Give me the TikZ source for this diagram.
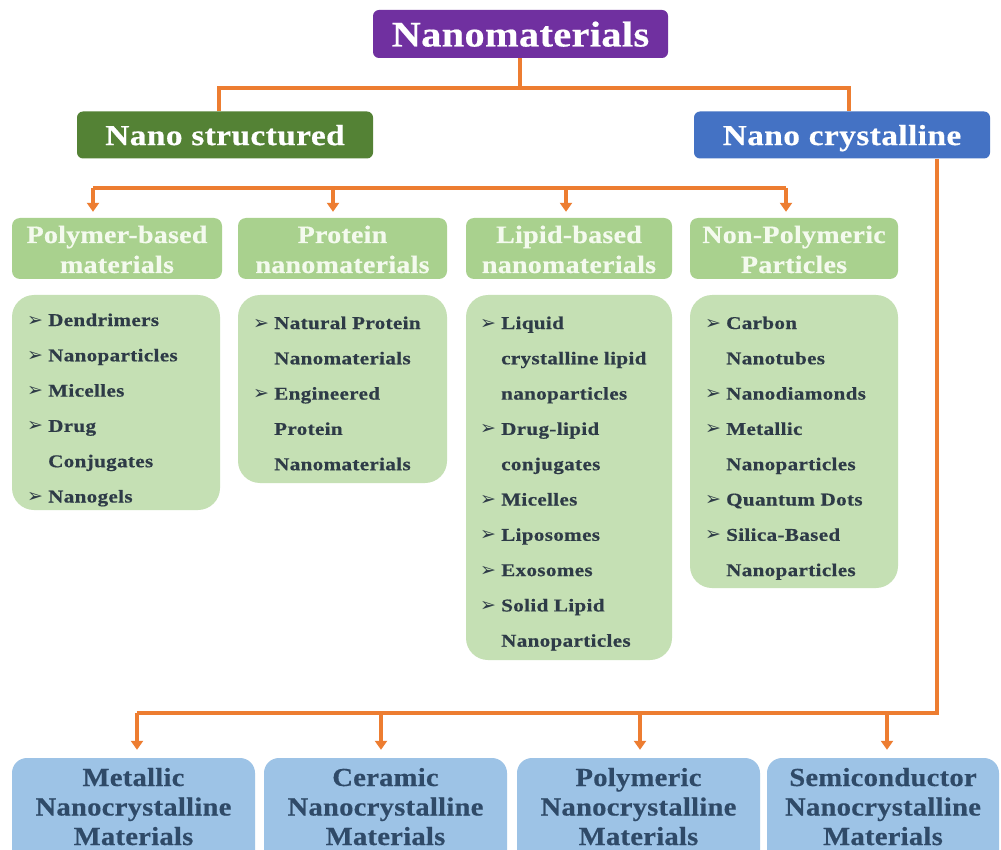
\documentclass[tikz,border=0pt]{standalone}
\usepackage{fontspec}
\setmainfont{Liberation Serif}
\newfontfamily\fTop[FakeStretch=1.12,LetterSpace=1,FakeBold=0.5,UprightFont=* Bold,BoldFont=* Bold]{Liberation Serif}
\newfontfamily\fMid[FakeStretch=1.15,LetterSpace=1.5,FakeBold=0.5,UprightFont=* Bold,BoldFont=* Bold]{Liberation Serif}
\newfontfamily\fHead[FakeStretch=1.12,LetterSpace=1,FakeBold=0.5,UprightFont=* Bold,BoldFont=* Bold]{Liberation Serif}
\newfontfamily\fItem[FakeStretch=1.17,LetterSpace=2,FakeBold=0.6,UprightFont=* Bold,BoldFont=* Bold]{Liberation Serif}
\newfontfamily\fBot[FakeStretch=1.1,LetterSpace=1,FakeBold=0.5,UprightFont=* Bold,BoldFont=* Bold]{Liberation Serif}
\newfontfamily\fSym{DejaVu Sans}
\usetikzlibrary{arrows.meta}
\definecolor{purpleC}{HTML}{7030A0}
\definecolor{dgreenC}{HTML}{548235}
\definecolor{blueC}{HTML}{4472C4}
\definecolor{hgreenC}{HTML}{A9D18E}
\definecolor{lgreenC}{HTML}{C5E0B4}
\definecolor{lblueC}{HTML}{9DC3E6}
\definecolor{orangeC}{HTML}{ED7D31}
\definecolor{itemC}{HTML}{2E3B47}
\definecolor{botC}{HTML}{2F4A68}
\definecolor{hdrC}{HTML}{F4FAEE}
\newcommand\bul{\makebox[21pt][l]{{\fSym\fontsize{19}{19}\selectfont\char"27A2}}}
\newcommand\cnt{\hspace*{21pt}}
\tikzset{
  conn/.style={draw=orangeC, line width=3.2pt},
  arr/.style={-{Triangle[width=12pt,length=9pt]}, shorten >=6pt},
  topbox/.style={fill=#1, rounded corners=6pt, inner sep=0pt, text=white, text depth=0pt},
  hdrbox/.style={fill=hgreenC, rounded corners=8pt, inner sep=0pt, minimum height=61pt},
  listbox/.style={fill=lgreenC, rounded corners=22pt, inner sep=0pt},
  botbox/.style={fill=lblueC, rounded corners=15pt, inner sep=0pt, minimum height=122pt},
  hdrtext/.style={inner sep=0pt, text=hdrC, font=\fHead\fontsize{25}{30}\selectfont},
  listtext/.style={inner sep=0pt, text=itemC, font=\fItem\fontsize{18}{35.3}\selectfont},
  bottext/.style={inner sep=0pt, text=botC, font=\fBot\fontsize{26}{29.5}\selectfont}
}
\begin{document}
\begin{tikzpicture}[x=1pt, y=-1pt]
\useasboundingbox (0,0) rectangle (1001,850);
\fill[white] (0,0) rectangle (1001,850);
\clip (0,0) rectangle (1001,850);

% top level
\node[topbox=purpleC, minimum width=295pt, minimum height=48pt, font=\fTop\fontsize{36}{40}\selectfont] (nano) at (520.5,34) {Nanomaterials};
\node[topbox=dgreenC, minimum width=296pt, minimum height=47pt, font=\fMid\fontsize{29}{32}\selectfont] (ns) at (225,135) {Nano structured};
\node[topbox=blueC, minimum width=296pt, minimum height=47pt, font=\fMid\fontsize{29}{32}\selectfont] (nc) at (842,135) {Nano crystalline};

% header boxes
\node[hdrbox, minimum width=210pt] (h1) at (117,248.5) {};
\node[hdrbox, minimum width=209pt] (h2) at (342.5,248.5) {};
\node[hdrbox, minimum width=206pt] (h3) at (569,248.5) {};
\node[hdrbox, minimum width=208pt] (h4) at (794,248.5) {};
\node[hdrtext, anchor=base] (ht1) at (117,243) {\begin{tabular}[t]{@{}c@{}}Polymer-based\\materials\end{tabular}};
\node[hdrtext, anchor=base] (ht2) at (342.5,243) {\begin{tabular}[t]{@{}c@{}}Protein\\nanomaterials\end{tabular}};
\node[hdrtext, anchor=base] (ht3) at (569,243) {\begin{tabular}[t]{@{}c@{}}Lipid-based\\nanomaterials\end{tabular}};
\node[hdrtext, anchor=base] (ht4) at (794,243) {\begin{tabular}[t]{@{}c@{}}Non-Polymeric\\Particles\end{tabular}};

% list boxes
\node[listbox, minimum width=208pt, minimum height=215pt] (c1) at (116,402.5) {};
\node[listbox, minimum width=209pt, minimum height=188pt] (c2) at (342.5,389) {};
\node[listbox, minimum width=206pt, minimum height=365pt] (c3) at (569,477.5) {};
\node[listbox, minimum width=208pt, minimum height=293pt] (c4) at (794,441.5) {};
\node[listtext, anchor=base west] (l1) at (27,326) {\begin{tabular}[t]{@{}l@{}}
\bul Dendrimers\\ \bul Nanoparticles\\ \bul Micelles\\ \bul Drug\\ \cnt Conjugates\\ \bul Nanogels\end{tabular}};
\node[listtext, anchor=base west] (l2) at (253,329) {\begin{tabular}[t]{@{}l@{}}
\bul Natural Protein\\ \cnt Nanomaterials\\ \bul Engineered\\ \cnt Protein\\ \cnt Nanomaterials\end{tabular}};
\node[listtext, anchor=base west] (l3) at (480,329) {\begin{tabular}[t]{@{}l@{}}
\bul Liquid\\ \cnt crystalline lipid\\ \cnt nanoparticles\\ \bul Drug-lipid\\ \cnt conjugates\\ \bul Micelles\\ \bul Liposomes\\ \bul Exosomes\\ \bul Solid Lipid\\ \cnt Nanoparticles\end{tabular}};
\node[listtext, anchor=base west] (l4) at (705,329) {\begin{tabular}[t]{@{}l@{}}
\bul Carbon\\ \cnt Nanotubes\\ \bul Nanodiamonds\\ \bul Metallic\\ \cnt Nanoparticles\\ \bul Quantum Dots\\ \bul Silica-Based\\ \cnt Nanoparticles\end{tabular}};

% bottom boxes
\node[botbox, minimum width=243pt] (b1) at (133.5,819) {};
\node[botbox, minimum width=243pt] (b2) at (385.5,819) {};
\node[botbox, minimum width=243pt] (b3) at (638.5,819) {};
\node[botbox, minimum width=232pt] (b4) at (883,819) {};
\node[bottext, anchor=base] (bt1) at (133.5,786) {\begin{tabular}[t]{@{}c@{}}Metallic\\Nanocrystalline\\Materials\end{tabular}};
\node[bottext, anchor=base] (bt2) at (385.5,786) {\begin{tabular}[t]{@{}c@{}}Ceramic\\Nanocrystalline\\Materials\end{tabular}};
\node[bottext, anchor=base] (bt3) at (638.5,786) {\begin{tabular}[t]{@{}c@{}}Polymeric\\Nanocrystalline\\Materials\end{tabular}};
\node[bottext, anchor=base] (bt4) at (883,786) {\begin{tabular}[t]{@{}c@{}}Semiconductor\\Nanocrystalline\\Materials\end{tabular}};

% connectors: top level
\coordinate (jm) at (520,88);
\coordinate (jl) at (219,88);
\coordinate (jr) at (849,88);
\draw[conn] (nano.south -| jm) -- (jm);
\draw[conn] (ns.north -| jl) -- (jl) -- (jr) -- (nc.north -| jr);

% connectors: nano structured bar
\coordinate (s1) at (93,188);
\coordinate (s2) at (333,188);
\coordinate (s3) at (566,188);
\coordinate (s4) at (786,188);
\draw[conn] (s1) -- (s4);
\draw[conn, arr] (s1) -- (s1 |- h1.north);
\draw[conn, arr] (s2) -- (s2 |- h2.north);
\draw[conn, arr] (s3) -- (s3 |- h3.north);
\draw[conn, arr] (s4) -- (s4 |- h4.north);

% connectors: nano crystalline
\coordinate (k0) at (937,713);
\coordinate (k1) at (137,713);
\coordinate (k2) at (381,713);
\coordinate (k3) at (640,713);
\coordinate (k4) at (887,713);
\draw[conn] (nc.south -| k0) -- (k0) -- (k1);
\draw[conn, arr, shorten >=8pt] (k1) -- (k1 |- b1.north);
\draw[conn, arr, shorten >=8pt] (k2) -- (k2 |- b2.north);
\draw[conn, arr, shorten >=8pt] (k3) -- (k3 |- b3.north);
\draw[conn, arr, shorten >=8pt] (k4) -- (k4 |- b4.north);
\end{tikzpicture}
\end{document}
